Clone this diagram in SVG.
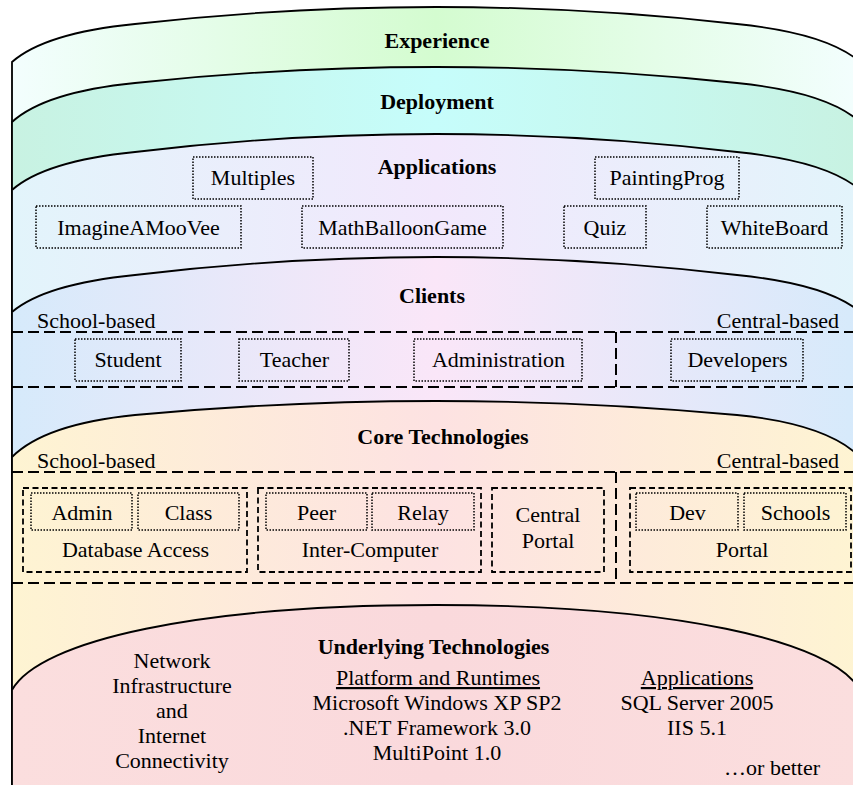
<svg xmlns="http://www.w3.org/2000/svg" width="853" height="785" viewBox="0 0 853 785">
<style>
text{font-family:"Liberation Serif","Times New Roman",serif;font-size:22px;fill:#000}
.t{font-weight:bold;text-anchor:middle}
.c{text-anchor:middle}
.e{text-anchor:end}
.u{text-decoration:underline}
.layer{stroke:#000;stroke-width:1.8}
.dot{fill:none;stroke:#000;stroke-width:1.5;stroke-dasharray:1.5 1.5}
.dash{fill:none;stroke:#000;stroke-width:2;stroke-dasharray:11 5}
.dsh{fill:none;stroke:#000;stroke-width:1.8;stroke-dasharray:6 3.5}
</style>
<defs>
<linearGradient id="g1" gradientUnits="userSpaceOnUse" x1="12" y1="0" x2="860" y2="0"><stop offset="0" stop-color="#f3fefe"/><stop offset="0.5" stop-color="#d4fcd0"/><stop offset="1" stop-color="#f3fefe"/></linearGradient>
<linearGradient id="g2" gradientUnits="userSpaceOnUse" x1="12" y1="0" x2="860" y2="0"><stop offset="0" stop-color="#c8f2e2"/><stop offset="0.5" stop-color="#c6fdfb"/><stop offset="1" stop-color="#c8f2e2"/></linearGradient>
<linearGradient id="g3" gradientUnits="userSpaceOnUse" x1="12" y1="0" x2="860" y2="0"><stop offset="0" stop-color="#e2f4fb"/><stop offset="0.5" stop-color="#f2e8fc"/><stop offset="1" stop-color="#e2f4fb"/></linearGradient>
<linearGradient id="g4" gradientUnits="userSpaceOnUse" x1="12" y1="0" x2="860" y2="0"><stop offset="0" stop-color="#d6eafb"/><stop offset="0.5" stop-color="#fae6f8"/><stop offset="1" stop-color="#d6eafb"/></linearGradient>
<linearGradient id="g5" gradientUnits="userSpaceOnUse" x1="12" y1="0" x2="860" y2="0"><stop offset="0" stop-color="#fef4d2"/><stop offset="0.5" stop-color="#fde2e2"/><stop offset="1" stop-color="#fef4d2"/></linearGradient>
<linearGradient id="g6" gradientUnits="userSpaceOnUse" x1="12" y1="0" x2="860" y2="0"><stop offset="0" stop-color="#fbdede"/><stop offset="0.5" stop-color="#fad9dc"/><stop offset="1" stop-color="#fbdede"/></linearGradient>
</defs>
<g id="layer-experience">
<path class="layer" fill="url(#g1)" d="M12,800 L12,62 Q45,33 135,24 Q436,-10 737,24 Q827,33 860,62 L860,800"/>
<text class="t" x="437" y="48">Experience</text>
</g>
<g id="layer-deployment">
<path class="layer" fill="url(#g2)" d="M12,800 L12,122 Q45,92 135,83 Q436,51 737,83 Q827,92 860,122 L860,800"/>
<text class="t" x="437" y="109">Deployment</text>
</g>
<g id="layer-applications">
<path class="layer" fill="url(#g3)" d="M12,800 L12,190 Q45,161 135,152 Q436,116 737,152 Q827,161 860,190 L860,800"/>
<text class="t" x="437" y="174">Applications</text>
</g>
<g id="app-multiples"><rect class="dot" x="193" y="157" width="120" height="42"/><text class="c" x="253" y="185">Multiples</text></g>
<g id="app-paintingprog"><rect class="dot" x="595" y="157" width="144" height="42"/><text class="c" x="667" y="185">PaintingProg</text></g>
<g id="app-imagineamoovee"><rect class="dot" x="36" y="206" width="205" height="42"/><text class="c" x="138.5" y="235">ImagineAMooVee</text></g>
<g id="app-mathballoongame"><rect class="dot" x="302" y="206" width="201" height="42"/><text class="c" x="402.5" y="235">MathBalloonGame</text></g>
<g id="app-quiz"><rect class="dot" x="564" y="206" width="82" height="42"/><text class="c" x="605" y="235">Quiz</text></g>
<g id="app-whiteboard"><rect class="dot" x="707" y="206" width="135" height="42"/><text class="c" x="774.5" y="235">WhiteBoard</text></g>
<g id="layer-clients">
<path class="layer" fill="url(#g4)" d="M12,800 L12,312 Q45,284 135,275 Q436,239 737,275 Q827,284 860,312 L860,800"/>
<text class="t" x="432" y="303">Clients</text>
<text x="37" y="328">School-based</text>
<text class="e" x="839" y="328">Central-based</text>
</g>
<g id="client-student"><rect class="dot" x="75" y="339" width="106" height="42"/><text class="c" x="128" y="367">Student</text></g>
<g id="client-teacher"><rect class="dot" x="239" y="339" width="110" height="42"/><text class="c" x="294.5" y="367">Teacher</text></g>
<g id="client-administration"><rect class="dot" x="414" y="339" width="168" height="42"/><text class="c" x="498.5" y="367">Administration</text></g>
<g id="client-developers"><rect class="dot" x="671" y="339" width="132" height="42"/><text class="c" x="737.5" y="367">Developers</text></g>
<g id="layer-core">
<path class="layer" fill="url(#g5)" d="M12,800 L12,457 Q45,424 135,415 Q436,387 737,415 Q827,424 860,457 L860,800"/>
<text class="t" x="443" y="444">Core Technologies</text>
<text x="37" y="468">School-based</text>
<text class="e" x="839" y="468">Central-based</text>
</g>
<g id="core-database-access"><rect class="dsh" x="23" y="488" width="224" height="84"/><text class="c" x="135.5" y="557">Database Access</text></g>
<g id="core-admin"><rect class="dot" x="31" y="493" width="101" height="37"/><text class="c" x="82" y="520">Admin</text></g>
<g id="core-class"><rect class="dot" x="138" y="493" width="101" height="37"/><text class="c" x="188.5" y="520">Class</text></g>
<g id="core-inter-computer"><rect class="dsh" x="258" y="488" width="223" height="84"/><text class="c" x="370" y="557">Inter-Computer</text></g>
<g id="core-peer"><rect class="dot" x="266" y="493" width="101" height="37"/><text class="c" x="316.5" y="520">Peer</text></g>
<g id="core-relay"><rect class="dot" x="372" y="493" width="102" height="37"/><text class="c" x="423" y="520">Relay</text></g>
<g id="core-central-portal"><rect class="dsh" x="492" y="488" width="112" height="84"/><text class="c" x="548" y="522">Central</text><text class="c" x="548" y="548">Portal</text></g>
<g id="core-portal"><rect class="dsh" x="630" y="488" width="221" height="84"/><text class="c" x="742" y="557">Portal</text></g>
<g id="core-dev"><rect class="dot" x="636" y="493" width="102" height="37"/><text class="c" x="687.5" y="520">Dev</text></g>
<g id="core-schools"><rect class="dot" x="744" y="493" width="102" height="37"/><text class="c" x="795.5" y="520">Schools</text></g>
<g id="layer-underlying">
<path class="layer" fill="url(#g6)" d="M12,800 L12,690 C40,640 200,605 436,605 C672,605 832,640 860,690 L860,800"/>
<text class="t" x="433.5" y="654">Underlying Technologies</text>
<text class="c" x="172" y="668">Network</text>
<text class="c" x="172" y="693">Infrastructure</text>
<text class="c" x="172" y="718">and</text>
<text class="c" x="172" y="743">Internet</text>
<text class="c" x="172" y="768">Connectivity</text>
<text class="c u" x="438" y="685">Platform and Runtimes</text>
<text class="c" x="437" y="710">Microsoft Windows XP SP2</text>
<text class="c" x="437" y="735">.NET Framework 3.0</text>
<text class="c" x="437" y="760">MultiPoint 1.0</text>
<text class="c u" x="697" y="685">Applications</text>
<text class="c" x="697" y="710">SQL Server 2005</text>
<text class="c" x="697" y="735">IIS 5.1</text>
<text class="e" x="820" y="775">…or better</text>
</g>
<g id="separators">
<line class="dash" x1="12" y1="332" x2="853" y2="332"/>
<line class="dash" x1="12" y1="387" x2="853" y2="387"/>
<line class="dash" x1="616" y1="332" x2="616" y2="387"/>
<line class="dash" x1="12" y1="472" x2="853" y2="472"/>
<line class="dash" x1="12" y1="583" x2="853" y2="583"/>
<line class="dash" x1="616" y1="472" x2="616" y2="583"/>
</g>
</svg>
